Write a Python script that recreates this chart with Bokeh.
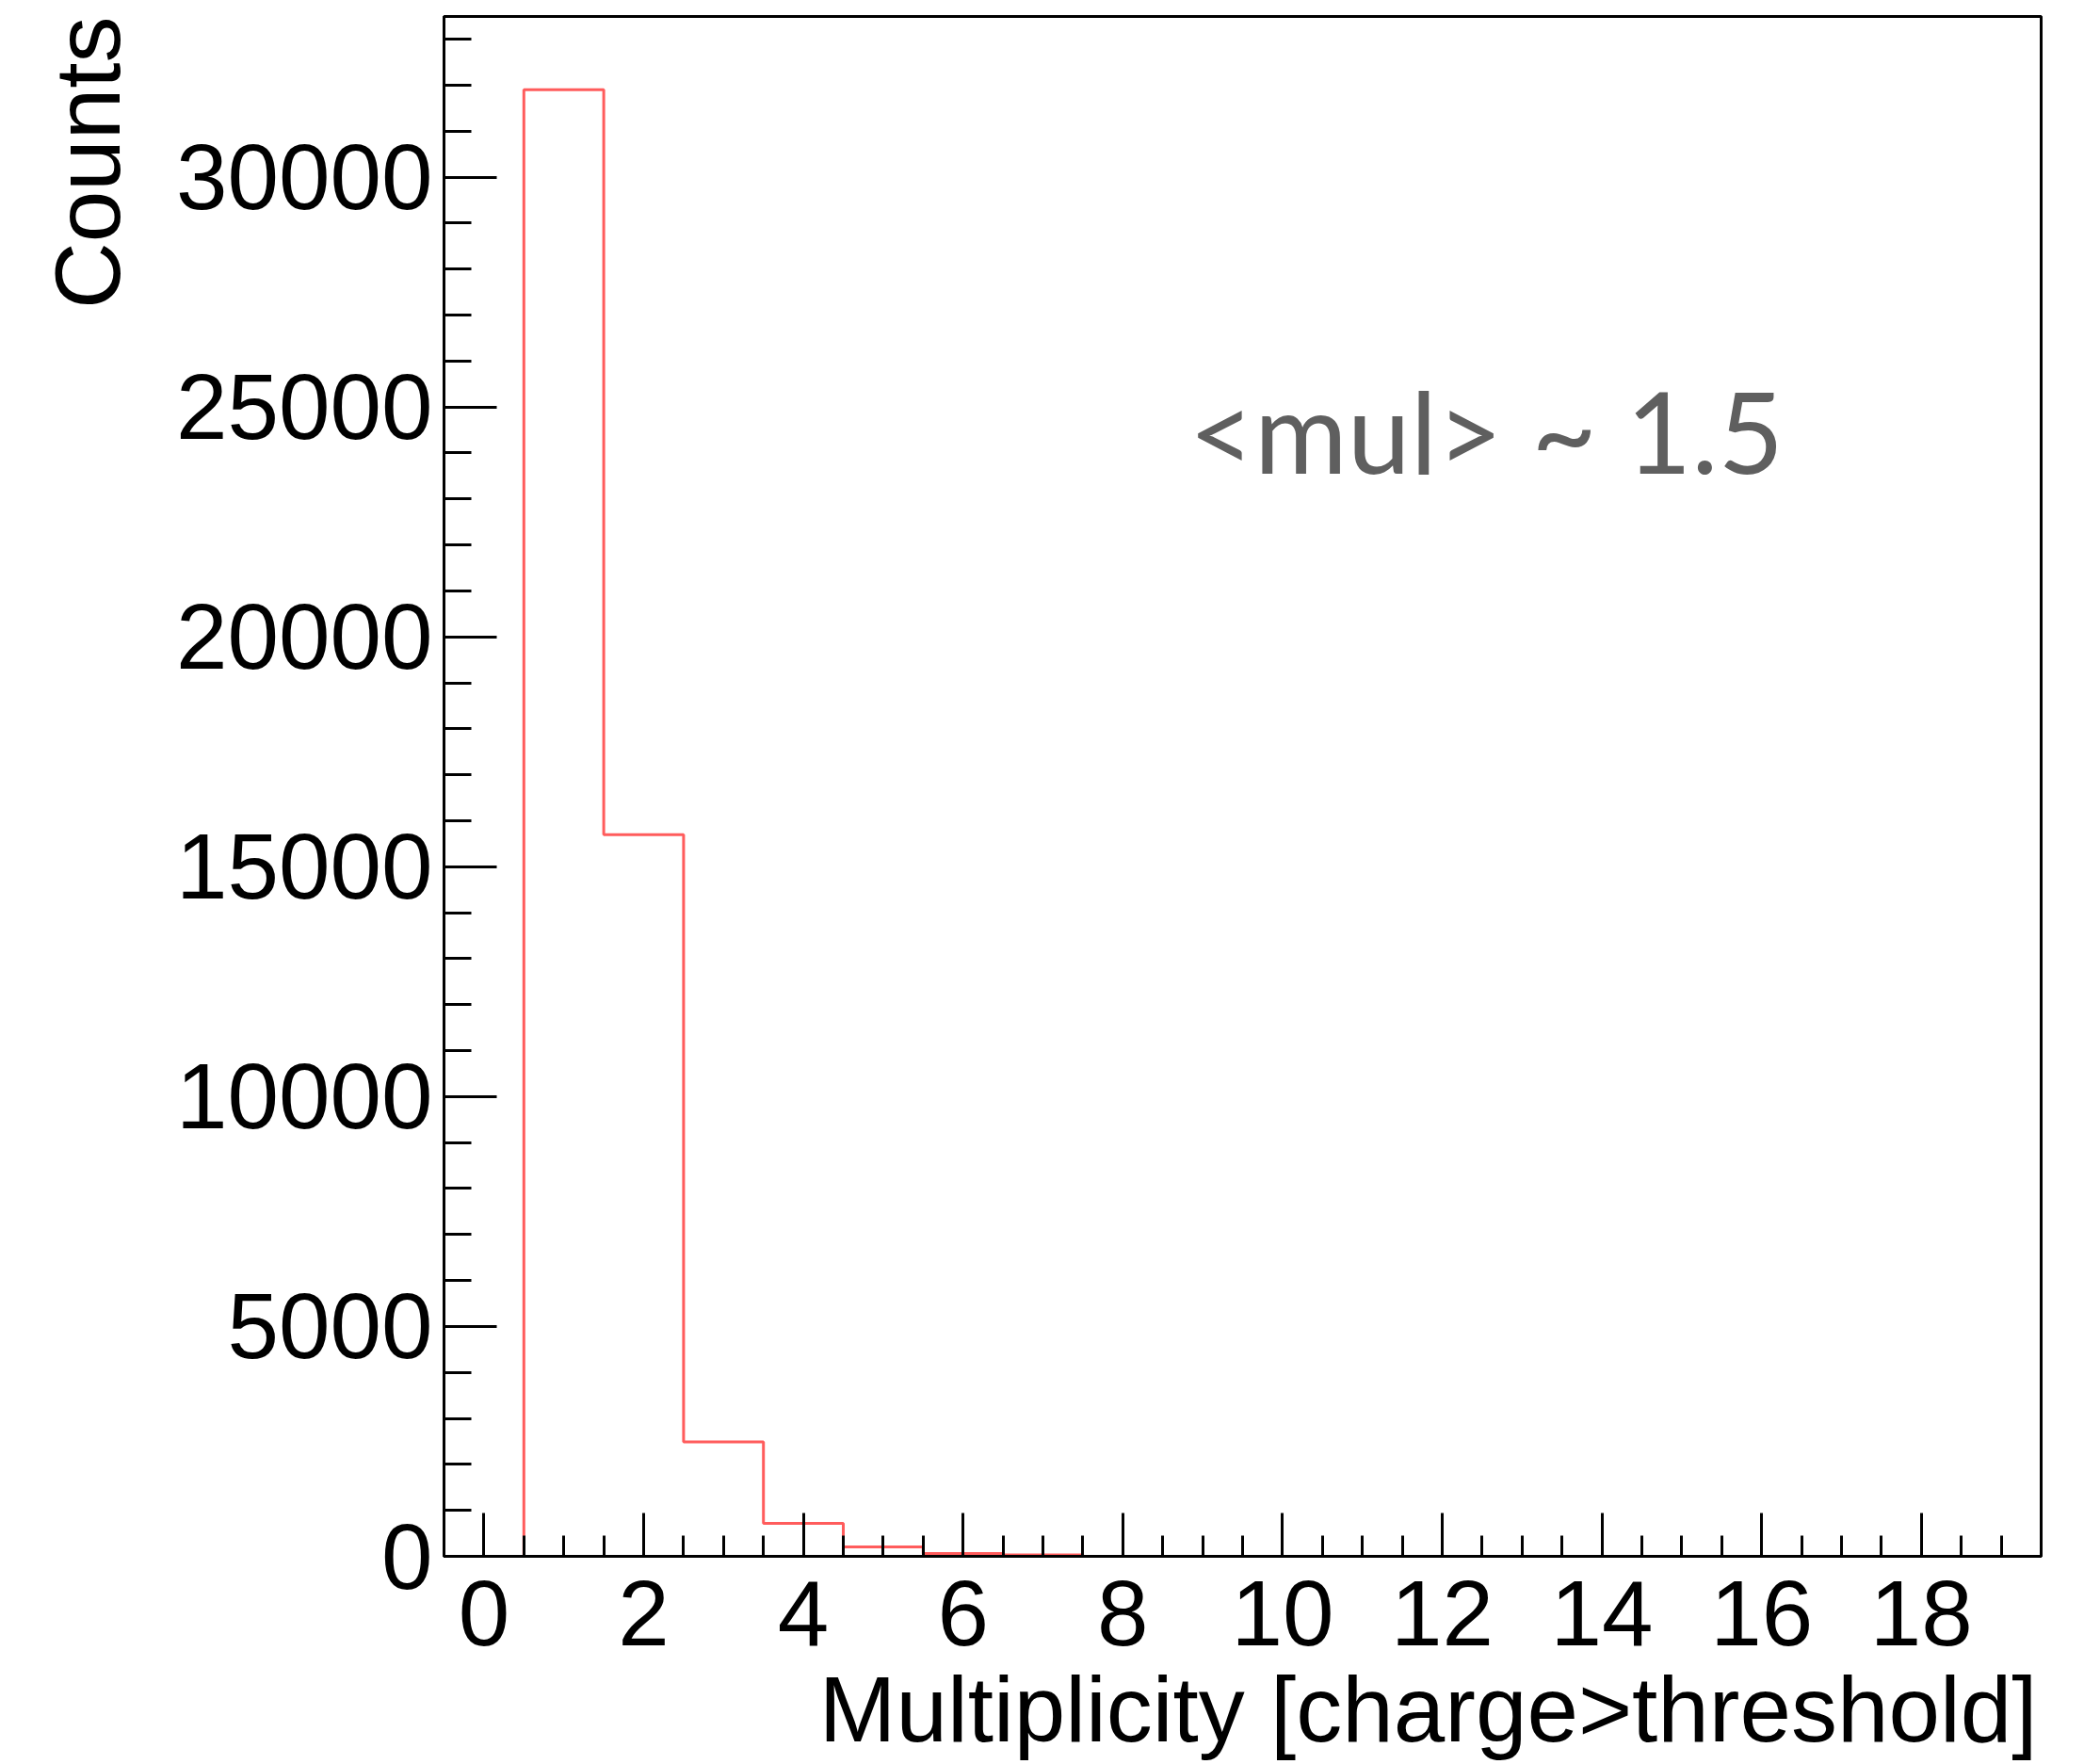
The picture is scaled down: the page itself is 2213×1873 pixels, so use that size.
from bokeh.plotting import figure
from bokeh.models import Range1d, SingleIntervalTicker, Label, Title
from bokeh.embed import file_html
from bokeh.resources import INLINE

# ---- data ----
bin_centers = [1, 2, 3, 4, 5, 6, 7]
bin_counts = [31900, 15700, 2490, 717, 205, 60, 30]
bin_width = 1.0
x_label = "Multiplicity [charge>threshold]"
y_label = "Counts"
annotation = "<mul> ~ 1.5"

# ---- layout constants ----
W, H = 2213, 1873
FL, FR, FT, FB = 471, 2167, 17, 1652
XMIN, XMAX = -0.5, 19.5
YMAX = 1.05 * max(bin_counts)

def px2x(px):
    return XMIN + (px - FL) / (FR - FL) * (XMAX - XMIN)

def py2y(py):
    return (FB - py) / (FB - FT) * YMAX

p = figure(width=W, height=H, frame_width=FR - FL, frame_height=FB - FT,
           min_border_left=FL, min_border_right=W - FR,
           min_border_top=FT, min_border_bottom=H - FB,
           x_range=Range1d(XMIN, XMAX), y_range=Range1d(0, YMAX),
           output_backend="svg", toolbar_location=None,
           background_fill_color="white", border_fill_color="white")

p.xgrid.visible = False
p.ygrid.visible = False
p.outline_line_color = "black"
p.outline_line_width = 3

# histogram outline built from bins
half = bin_width / 2
xs = [bin_centers[0] - half] + [c - half for c in bin_centers] + [bin_centers[-1] + half]
ys = [0] + list(bin_counts) + [0]
p.step(x=xs, y=ys, mode="after", line_color="#ff5c5c", line_width=3)

for ax, interval, nminor, maj, mnr in ((p.xaxis[0], 2, 4, 46, 22), (p.yaxis[0], 5000, 5, 56, 29)):
    ax.ticker = SingleIntervalTicker(interval=interval, num_minor_ticks=nminor)
    ax.axis_line_color = "black"
    ax.axis_line_width = 3
    ax.major_tick_line_color = "black"
    ax.major_tick_line_width = 3
    ax.minor_tick_line_color = "black"
    ax.minor_tick_line_width = 3
    ax.major_tick_in = maj
    ax.major_tick_out = 0
    ax.minor_tick_in = mnr
    ax.minor_tick_out = 0
    ax.major_label_text_font = "Liberation Sans"
    ax.major_label_text_font_size = "98px"
    ax.major_label_text_color = "black"

p.xaxis[0].major_label_standoff = 26
p.yaxis[0].major_label_standoff = 12
p.yaxis[0].formatter.use_scientific = False

p.add_layout(Title(text=x_label, align="right", text_font="Liberation Sans",
                   text_font_size="98px", text_font_style="normal",
                   text_color="black", standoff=16, offset=4), "below")
p.add_layout(Title(text=y_label, align="right", text_font="Liberation Sans",
                   text_font_size="98px", text_font_style="normal",
                   text_color="black", standoff=71, offset=0), "left")

p.add_layout(Label(x=px2x(1262), y=py2y(456), text=annotation,
                   text_align="left", text_baseline="alphabetic",
                   text_font="Lato", text_font_size="120px",
                   text_color="#5f5f5f"))

open("out.html", "w").write(file_html(p, INLINE))
